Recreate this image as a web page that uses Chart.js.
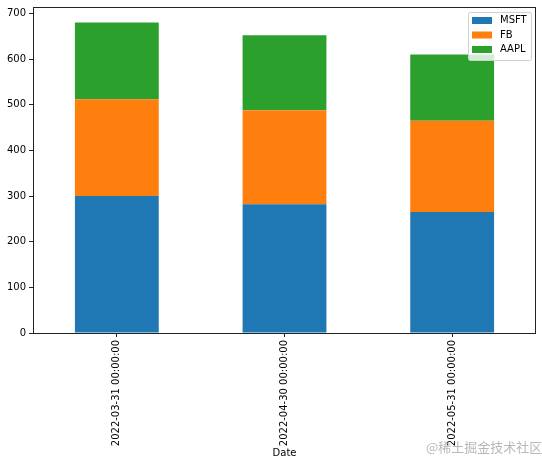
<!DOCTYPE html>
<html>
<head>
<meta charset="utf-8">
<script src="https://cdn.jsdelivr.net/npm/chart.js@4"></script>
<style>
  html, body { margin: 0; padding: 0; background: #fff; }
  #wrap { width: 542px; height: 466px; }
</style>
</head>
<body>
<div id="wrap"><canvas id="chart" width="542" height="466"></canvas></div>
<script>
// data
const dates = ["2022-03-31 00:00:00", "2022-04-30 00:00:00", "2022-05-31 00:00:00"];
const msft = [300, 282, 265];
const fb = [212, 206, 200];
const aapl = [168, 164, 145];
const yTicks = [0, 100, 200, 300, 400, 500, 600, 700];

const FONT = "'DejaVu Sans', sans-serif";

// matplotlib style frame (all four spines)
const frame = {
    id: "frame",
    afterDatasetsDraw(chart) {
        const a = chart.chartArea;
        const ctx = chart.ctx;
        ctx.save();
        ctx.strokeStyle = "#222";
        ctx.lineWidth = 1;
        ctx.strokeRect(Math.round(a.left) + 0.5, Math.round(a.top) + 0.5,
            Math.round(a.right - a.left) - 1, Math.round(a.bottom - a.top));
        ctx.restore();
    }
};

// legend box in the upper right, like matplotlib
const mplLegend = {
    id: "mplLegend",
    afterDraw(chart) {
        const a = chart.chartArea;
        const ctx = chart.ctx;
        const sets = chart.data.datasets;
        const w = 63, h = 48;
        const x = a.right - 5 - w, y = a.top + 5;
        ctx.save();
        ctx.fillStyle = "rgba(255,255,255,0.8)";
        ctx.strokeStyle = "#d0d0d0";
        ctx.lineWidth = 1;
        ctx.beginPath();
        ctx.roundRect(x + 0.5, y + 0.5, w, h, 2);
        ctx.fill();
        ctx.stroke();
        ctx.font = "10px " + FONT;
        ctx.textBaseline = "middle";
        for (let i = 0; i < sets.length; i++) {
            const cy = y + 8.5 + i * 14.5;
            ctx.fillStyle = sets[i].backgroundColor;
            ctx.fillRect(x + 4, cy - 3.5, 20, 7);
            ctx.fillStyle = "#000";
            ctx.fillText(sets[i].label, x + 32, cy);
        }
        // watermark
        ctx.font = "13px 'Noto Sans CJK SC', sans-serif";
        ctx.fillStyle = "rgba(160,160,160,0.75)";
        ctx.textBaseline = "middle";
        ctx.fillText("@稀土掘金技术社区", 426, 447);
        ctx.restore();
    }
};

const ctx = document.getElementById("chart").getContext("2d");
new Chart(ctx, {
    type: "bar",
    data: {
        labels: dates,
        datasets: [
            { label: "MSFT", data: msft, backgroundColor: "#1f77b4" },
            { label: "FB", data: fb, backgroundColor: "#ff7f0e" },
            { label: "AAPL", data: aapl, backgroundColor: "#2ca02c" }
        ]
    },
    options: {
        responsive: false,
        animation: false,
        events: [],
        layout: { padding: { top: 7, right: 6, left: 0, bottom: 0 } },
        datasets: {
            bar: { categoryPercentage: 1, barPercentage: 0.5, borderWidth: 0 }
        },
        plugins: {
            legend: { display: false },
            tooltip: { enabled: false }
        },
        scales: {
            x: {
                stacked: true,
                grid: { display: true, offset: false, drawOnChartArea: false, drawTicks: true, tickLength: 4, color: "#222" },
                border: { display: false },
                ticks: {
                    minRotation: 90, maxRotation: 90, padding: 3,
                    color: "#000", font: { family: FONT, size: 10 }
                },
                title: {
                    display: true, text: "Date", color: "#000",
                    font: { family: FONT, size: 10 },
                    padding: { top: 0, bottom: 7 }
                },
                afterFit(scale) { scale.height = 133; }
            },
            y: {
                stacked: true,
                min: 0,
                max: 714,
                grid: { display: true, drawOnChartArea: false, drawTicks: true, tickLength: 4, color: "#222" },
                border: { display: false },
                ticks: {
                    padding: 3, color: "#000", font: { family: FONT, size: 10, lineHeight: 0.8 }
                },
                afterBuildTicks(scale) { scale.ticks = yTicks.map(v => ({ value: v })); },
                afterFit(scale) { scale.width = 33; }
            }
        }
    },
    plugins: [frame, mplLegend]
});
</script>
</body>
</html>
